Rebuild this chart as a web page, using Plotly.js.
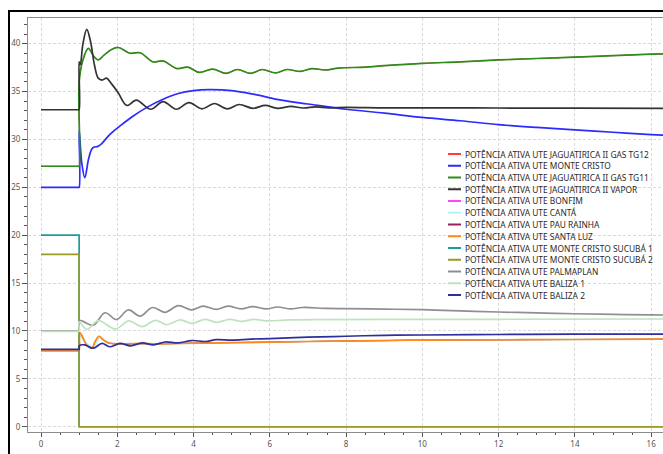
<!DOCTYPE html>
<html><head><meta charset="utf-8">
<script src="https://cdn.plot.ly/plotly-3.0.1.min.js"></script>
<style>
html,body{margin:0;padding:0;background:#fff;overflow:hidden}
#frame{position:absolute;left:8px;top:10px;width:720px;height:520px;border:2px solid #000}
#chart{position:absolute;left:0;top:0;width:663px;height:454px}
</style></head><body>
<div id="frame"></div>
<div id="chart"></div>
<script>
// ---- legend names and colours ----
const names = [
  "POTÊNCIA ATIVA UTE JAGUATIRICA II GAS TG12",
  "POTÊNCIA ATIVA UTE MONTE CRISTO",
  "POTÊNCIA ATIVA UTE JAGUATIRICA II GAS TG11",
  "POTÊNCIA ATIVA UTE JAGUATIRICA II VAPOR",
  "POTÊNCIA ATIVA UTE BONFIM",
  "POTÊNCIA ATIVA UTE CANTÁ",
  "POTÊNCIA ATIVA UTE PAU RAINHA",
  "POTÊNCIA ATIVA UTE SANTA LUZ",
  "POTÊNCIA ATIVA UTE MONTE CRISTO SUCUBÁ 1",
  "POTÊNCIA ATIVA UTE MONTE CRISTO SUCUBÁ 2",
  "POTÊNCIA ATIVA UTE PALMAPLAN",
  "POTÊNCIA ATIVA UTE BALIZA 1",
  "POTÊNCIA ATIVA UTE BALIZA 2"
];
const colors = ["#ff3b3b","#2b2bff","#2f8c1c","#333333","#ff44ff","#b4f4f4","#9c1f5e",
                "#ff8a1f","#1f9c9c","#9a9a24","#8f8f8f","#bfe3bf","#2e2e9c"];

// ---- axis ticks ----
const xTicks = [0,2,4,6,8,10,12,14,16];
const yTicks = [0,5,10,15,20,25,30,35,40];

// ---- series (time s, power MW) ----
const tTG11 = [0,0.98,1.0,1.0,1.1,1.24,1.38,1.5,1.65,1.85,2.03,2.33,2.6,2.94,3.2,3.56,3.85,4.15,4.5,4.85,5.15,5.5,5.8,6.15,6.45,6.8,7.1,7.45,7.8,8.5,9,10,11,12,13,14,15,16,16.5];
const vTG11 = [27.2,27.2,27.2,36.0,38.3,39.5,38.7,38.3,38.8,39.4,39.6,39.0,39.05,38.1,38.2,37.4,37.55,37.0,37.35,36.9,37.3,36.9,37.3,36.95,37.3,37.1,37.4,37.25,37.45,37.55,37.7,37.95,38.1,38.3,38.45,38.6,38.75,38.9,38.95];

const tTG12 = tTG11;
const vTG12 = vTG11;

const tMC = [0,0.98,1.0,1.0,1.07,1.15,1.25,1.35,1.5,1.6,1.8,2.1,2.4,2.8,3.2,3.6,4.0,4.4,5.0,5.6,6.3,7.0,8.0,9.0,10,11,12,13,14,15,16,16.5];
const vMC = [25,25,25,31,27.5,26.0,28.0,29.1,29.3,29.6,30.5,31.5,32.4,33.4,34.2,34.8,35.1,35.2,35.1,34.7,34.1,33.7,33.15,32.75,32.3,31.95,31.55,31.25,31.0,30.75,30.5,30.42];

const tVap = [0,0.98,1.0,1.0,1.03,1.1,1.2,1.3,1.4,1.5,1.6,1.72,1.85,2.02,2.25,2.5,2.88,3.2,3.55,3.88,4.22,4.55,4.88,5.2,5.55,5.88,6.2,6.55,6.88,7.2,7.55,8,9,10,12,14,16.5];
const vVap = [33.1,33.1,33.1,38.1,37.8,40.0,41.5,40.2,37.8,36.4,36.2,36.4,35.8,34.9,33.55,34.1,33.15,33.95,33.15,33.85,33.2,33.75,33.2,33.65,33.25,33.55,33.25,33.45,33.28,33.4,33.3,33.35,33.3,33.3,33.28,33.27,33.25];

const tSL = [0,0.98,1.0,1.02,1.1,1.2,1.33,1.42,1.52,1.62,1.77,2.0,2.5,3.0,3.65,5,7,9,10,12,14,16.5];
const vSL = [7.94,7.94,7.94,9.8,9.3,8.5,8.2,8.9,9.45,9.1,8.75,8.65,8.68,8.66,8.7,8.78,8.9,9.0,9.05,9.08,9.11,9.14];

const tCanta = [0,0.98,1.0,1.02,1.1,1.22,1.36,1.45,1.56,1.66,1.8,2.0,2.5,3.0,3.65,5,7,9,10,12,14,16.5];
const vCanta = [7.94,7.94,7.94,9.6,9.1,8.6,8.3,8.8,9.35,9.1,8.8,8.68,8.68,8.66,8.7,8.78,8.9,9.0,9.05,9.08,9.11,9.14];

const tBonfim = tSL, vBonfim = vSL;
const tPau = tSL, vPau = vSL;

const tSuc1 = [0,1.0,1.0,16.5];
const vSuc1 = [20,20,0,0];
const tSuc2 = [0,1.0,1.0,16.5];
const vSuc2 = [18,18,0,0];

const tPalma = [0,0.98,1.0,1.0,1.1,1.37,1.68,1.98,2.29,2.6,2.92,3.25,3.6,3.95,4.25,4.6,4.9,5.25,5.55,5.9,6.2,6.55,6.85,7.5,8,9,10,11,12,13,14,15,16,16.5];
const vPalma = [10.0,10.0,10.0,11.1,11.0,10.6,11.9,11.2,12.2,11.55,12.45,11.95,12.65,12.2,12.6,12.25,12.6,12.3,12.55,12.3,12.5,12.3,12.45,12.35,12.33,12.28,12.22,12.1,11.98,11.88,11.8,11.73,11.68,11.66];

const tBal1 = [0,0.98,1.0,1.0,1.2,1.5,1.95,2.3,2.65,3.0,3.3,3.65,3.95,4.3,4.6,4.95,5.25,5.6,5.9,6.5,7.5,9,12,16.5];
const vBal1 = [9.95,9.95,9.95,10.95,10.17,11.07,10.2,11.05,10.45,11.1,10.65,11.15,10.8,11.2,10.9,11.2,11.0,11.2,11.05,11.15,11.18,11.2,11.22,11.25];

const tBal2 = [0,0.98,1.0,1.0,1.15,1.37,1.6,1.8,2.07,2.35,2.65,2.95,3.25,3.6,3.95,4.3,4.6,5,5.5,6,7,8,9,10,12,14,16.5];
const vBal2 = [8.08,8.08,8.08,8.45,8.55,8.2,8.7,8.35,8.7,8.45,8.75,8.55,8.85,8.75,9.0,8.9,9.1,9.05,9.15,9.2,9.35,9.45,9.55,9.58,9.63,9.66,9.68];

const seriesT = [tTG12,tMC,tTG11,tVap,tBonfim,tCanta,tPau,tSL,tSuc1,tSuc2,tPalma,tBal1,tBal2];
const seriesV = [vTG12,vMC,vTG11,vVap,vBonfim,vCanta,vPau,vSL,vSuc1,vSuc2,vPalma,vBal1,vBal2];
const stepOnly = [false,false,false,false,false,false,false,false,true,true,false,false,false];
// traces fully covered by a later trace are drawn thinner so no halo shows
const covered = [true,false,false,false,true,false,true,false,false,false,false,false,false];

const traces = seriesT.map((t,i)=>({
  type:'scatter', mode:'lines', x:t, y:seriesV[i], name:names[i], showlegend:false,
  line:{color:colors[i], width: covered[i] ? 1.0 : 1.7, shape: stepOnly[i] ? 'linear' : 'spline', smoothing:1},
  hoverinfo:'skip'
}));

// plot area geometry in px (for the hand-placed legend)
const L=28, T=18, W=635, H=414;
const shapes = [], annotations = [];
names.forEach((n,i)=>{
  const yc = 154 + i*11.75;
  const yp = (T+H - yc)/H;
  shapes.push({type:'line', xref:'paper', yref:'paper', x0:(448-L)/W, x1:(461-L)/W, y0:yp, y1:yp,
               line:{color:colors[i], width:2}});
  annotations.push({xref:'paper', yref:'paper', x:(463-L)/W, y:yp, xanchor:'left', yanchor:'middle',
               text:n, showarrow:false, font:{size:8.4, color:'#2a2a2a', family:'Noto Sans, Open Sans, sans-serif'}});
});

const axisCommon = {
  showgrid:true, gridcolor:'#dadada', griddash:'3px,2px', gridwidth:1,
  showline:true, linecolor:'#8c8c8c', linewidth:1, mirror:true, zeroline:false,
  ticks:'outside', tickcolor:'#555', tickwidth:1,
  tickfont:{size:8, color:'#555', family:'Noto Sans, Open Sans, sans-serif'}
};

const layout = {
  width:663, height:454,
  margin:{l:L, r:0, t:T, b:454-T-H, pad:0},
  paper_bgcolor:'rgba(0,0,0,0)', plot_bgcolor:'#fff',
  showlegend:false,
  xaxis:Object.assign({}, axisCommon, {range:[-0.341,16.31], tickvals:xTicks, ticklen:4,
    minor:{dtick:0.5, tick0:0, ticks:'outside', ticklen:2, tickcolor:'#555', showgrid:false}}),
  yaxis:Object.assign({}, axisCommon, {range:[-0.55,42.68], tickvals:yTicks, ticklen:5,
    minor:{dtick:1, tick0:0, ticks:'outside', ticklen:3, tickcolor:'#555', showgrid:false}}),
  shapes:shapes, annotations:annotations
};

Plotly.newPlot('chart', traces, layout, {displayModeBar:false, staticPlot:true});
</script></body></html>
